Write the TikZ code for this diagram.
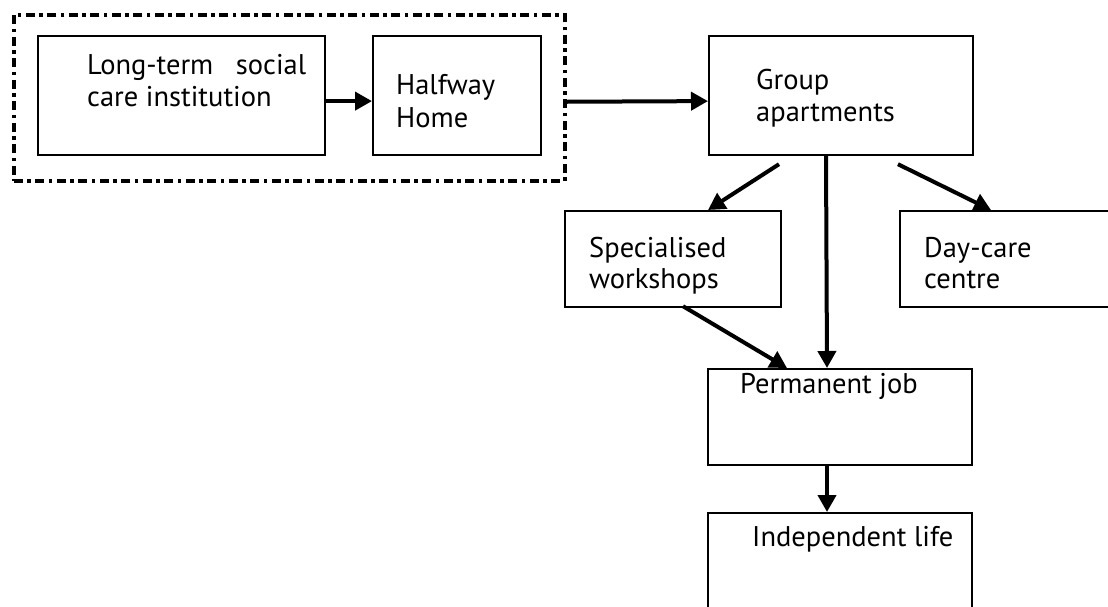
\documentclass[tikz,border=0pt]{standalone}
\usepackage{fontspec}
\setmainfont{PT Sans}
\usetikzlibrary{arrows.meta}
\begin{document}
\begin{tikzpicture}[x=1pt,y=-1pt,
  box/.style={draw=black,line width=2.2pt,rectangle,inner sep=0pt,anchor=north west},
  grpbox/.style={draw=black,line width=3.5pt,rectangle,inner sep=0pt,anchor=north west,
    dash pattern=on 9pt off 4.5pt on 3.5pt off 4.5pt},
  txt/.style={anchor=base west,inner sep=0pt,font=\fontsize{28.5}{32}\selectfont},
  arr/.style={line width=4pt,-{Triangle[length=17pt,width=18pt]}}]
\useasboundingbox (0,0) rectangle (1108,606);
\clip (0,0) rectangle (1108,606);
% dashed group
\node[grpbox,minimum width=551pt,minimum height=166pt] (grp) at (12,13) {};
% boxes
\node[box,minimum width=287pt,minimum height=119pt] (lt) at (37,35) {};
\node[box,minimum width=168pt,minimum height=119pt] (hh) at (372,35) {};
\node[box,minimum width=264pt,minimum height=119pt] (ga) at (708,35) {};
\node[box,minimum width=216pt,minimum height=96pt] (sw) at (564,210) {};
\node[box,minimum width=260pt,minimum height=96pt] (dc) at (899,210) {};
\node[box,minimum width=264pt,minimum height=96pt] (pj) at (707,368) {};
\node[box,minimum width=264pt,minimum height=120pt] (il) at (707,512) {};
% texts
\node[txt] (lt1) at (87,74) {\hbox to 219pt{Long-term\hfill social}};
\node[txt] (lt2) at (87,106) {care institution};
\node[txt] (hh1) at (396,94) {Halfway};
\node[txt] (hh2) at (396,127) {Home};
\node[txt] (ga1) at (756,89) {Group};
\node[txt] (ga2) at (756,121) {apartments};
\node[txt] (sw1) at (589,257) {Specialised};
\node[txt] (sw2) at (589,288) {workshops};
\node[txt] (dc1) at (924,257) {Day-care};
\node[txt] (dc2) at (924,288) {centre};
\node[txt] (pj1) at (740,393) {Permanent job};
\node[txt] (il1) at (752,546) {Independent life};
% connectors
\draw[arr] ([yshift=-5.5pt]lt.east) -- ([yshift=-5.5pt]hh.west);
\draw[arr] ([yshift=-4pt]grp.east) -- ([yshift=-5.5pt]ga.west);
\draw[arr] ([xshift=71pt,yshift=-8pt]ga.south west) -- ([xshift=144pt]sw.north west);
\draw[arr] ([xshift=190pt,yshift=-8pt]ga.south west) -- ([xshift=92pt]dc.north west);
\draw[arr] ([xshift=118pt]ga.south west) -- ([xshift=120pt]pj.north west);
\draw[arr] ([xshift=119pt,yshift=2pt]sw.south west) -- ([xshift=80pt]pj.north west);
\draw[arr] ([xshift=120pt]pj.south west) -- ([xshift=120pt]il.north west);
\end{tikzpicture}
\end{document}
